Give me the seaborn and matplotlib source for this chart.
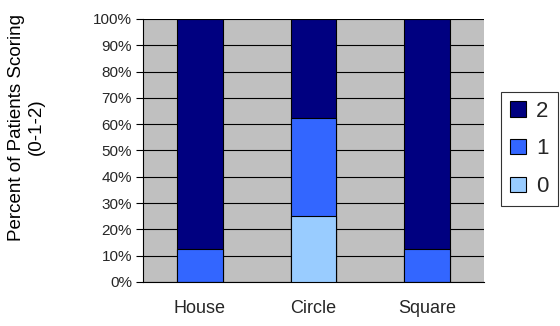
import matplotlib
matplotlib.use("Agg")
import matplotlib.pyplot as plt
import seaborn as sns
import numpy as np
from matplotlib.patches import Patch
from matplotlib.ticker import PercentFormatter, MultipleLocator, FixedLocator

shapes = ["House", "Circle", "Square"]
score_0 = [0.0, 25.0, 0.0]
score_1 = [12.5, 37.5, 12.5]
score_2 = [87.5, 37.5, 87.5]

colors = {"2": "#000080", "1": "#3366FF", "0": "#99CCFF"}

sns.set_theme(style="white")
plt.rcParams["font.family"] = ["Liberation Sans", "DejaVu Sans"]

fig = plt.figure(figsize=(5.6, 3.26), dpi=100)
ax = fig.add_axes([0.2554, 0.135, 0.609, 0.807])
ax.set_facecolor("#C0C0C0")

# cumulative heights, drawn from the top segment down so each overlays the next
top_2 = np.array(score_0) + np.array(score_1) + np.array(score_2)
top_1 = np.array(score_0) + np.array(score_1)
top_0 = np.array(score_0)

for heights, key in [(top_2, "2"), (top_1, "1"), (top_0, "0")]:
    sns.barplot(x=shapes, y=heights, color=colors[key], width=0.4,
                edgecolor="black", linewidth=0.8, saturation=1, ax=ax, zorder=3)

ax.set_ylim(0, 100)
ax.set_xlim(-0.5, 2.5)
ax.yaxis.set_major_locator(MultipleLocator(10))
ax.yaxis.set_major_formatter(PercentFormatter(decimals=0))
ax.grid(axis="y", color="black", linewidth=0.8, zorder=1)
ax.set_axisbelow(True)

ax.xaxis.set_minor_locator(FixedLocator([-0.5, 0.5, 1.5, 2.5]))
ax.tick_params(axis="x", which="major", length=0, pad=13, labelsize=13)
ax.tick_params(axis="x", which="minor", length=5, width=0.8, color="black", direction="out")
ax.tick_params(axis="y", length=5, width=0.8, color="black", direction="out",
               labelsize=11, pad=3, left=True)

for side in ["top", "right"]:
    ax.spines[side].set_visible(False)
ax.spines["left"].set_color("black")
ax.spines["left"].set_linewidth(0.8)
ax.spines["bottom"].set_color("black")
ax.spines["bottom"].set_linewidth(0.8)

ax.set_xlabel("")
ax.set_ylabel("")
fig.text(0.047, 0.61, "Percent of Patients Scoring\n(0-1-2)", rotation=90,
         ha="center", va="center", fontsize=13.5, linespacing=1.2,
         multialignment="center", color="black")

handles = [Patch(facecolor=colors[k], edgecolor="black", linewidth=0.8, label=k)
           for k in ["2", "1", "0"]]
leg = fig.legend(handles=handles, loc="center left", bbox_to_anchor=(0.894, 0.543),
                 frameon=True, fancybox=False, edgecolor="black", fontsize=16,
                 handlelength=0.75, handleheight=0.7, handletextpad=0.45,
                 borderpad=0.4, labelspacing=0.75, borderaxespad=0)
leg.get_frame().set_linewidth(0.8)

fig.savefig("out.png", dpi=100)
